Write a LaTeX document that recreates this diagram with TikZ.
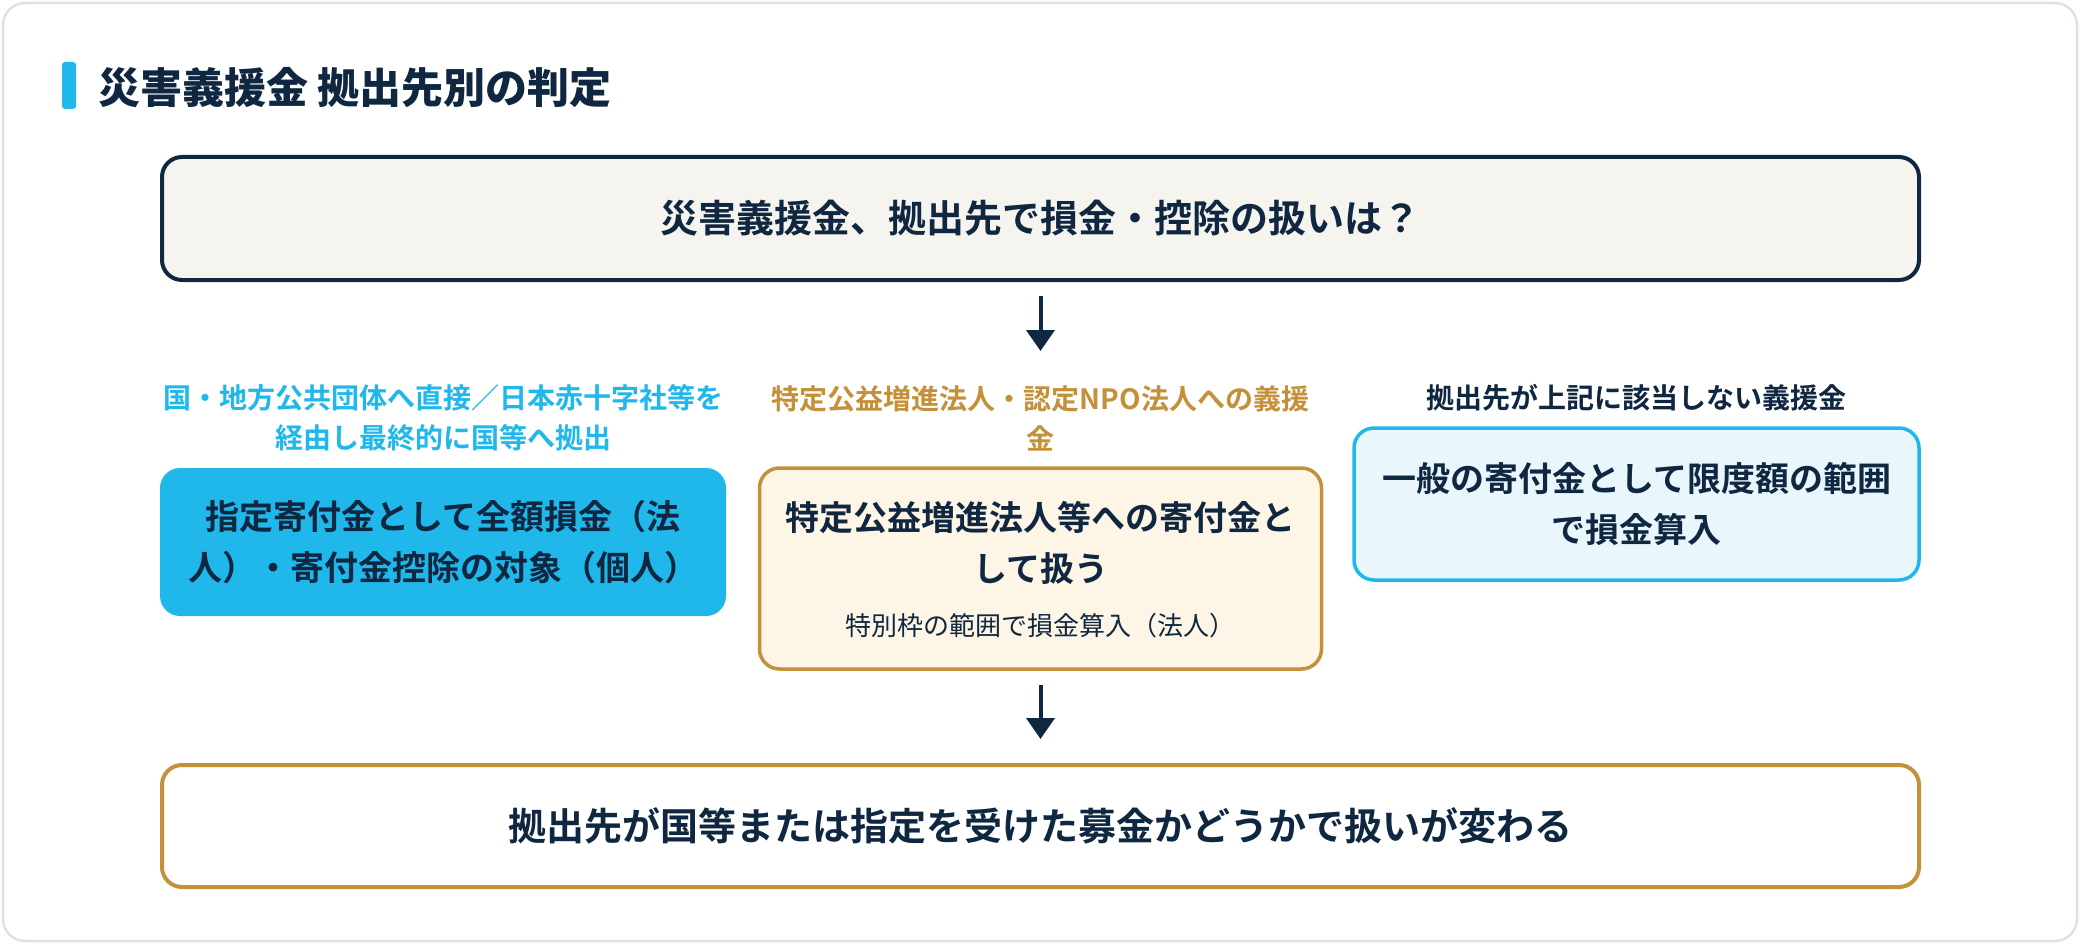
\documentclass[tikz,border=0pt]{standalone}
\usepackage{fontspec}
\setmainfont{Noto Sans CJK JP}[BoldFont={* Bold}]
\newfontfamily\heavyfont{Noto Sans CJK JP Black}
\usetikzlibrary{arrows.meta}
\definecolor{navy}{HTML}{0F2740}
\definecolor{skyblue}{HTML}{20B7EA}
\definecolor{gold}{HTML}{C4913A}
\definecolor{cream}{HTML}{FDF5E6}
\definecolor{icecyan}{HTML}{E9F7FD}
\definecolor{paper}{HTML}{F5F4EF}
\definecolor{frameline}{HTML}{E4E2D8}

\begin{document}
\begin{tikzpicture}[x=1pt,y=-1pt,
  box/.style={rectangle,rounded corners=20pt,align=center,inner sep=0pt,
    text=navy,font=\bfseries\fontsize{34}{51}\selectfont},
  lbl/.style={align=center,inner sep=0pt,font=\bfseries\fontsize{28}{40}\selectfont},
  flow/.style={draw=navy,line width=4pt,-{Triangle[length=21pt,width=28pt]}}]
  \useasboundingbox (0,0) rectangle (2080,944);
  \draw[frameline,line width=2.5pt,fill=white,rounded corners=22pt] (3,3) rectangle (2077,941);
  \fill[skyblue,rounded corners=3pt] (62,62) rectangle (76,109);
  \node[anchor=west,inner sep=0pt,text=navy,font=\heavyfont\fontsize{42}{50}\selectfont] (title) at (98,88) {災害義援金 拠出先別の判定};
  \node[box,draw=navy,line width=4pt,fill=paper,minimum width=1757pt,minimum height=123pt,
    font=\bfseries\fontsize{38}{46}\selectfont] (question) at (1040.5,218.5) {災害義援金、拠出先で損金・控除の扱いは？};
  \coordinate (split) at (1040.5,351);
  \node[lbl,text=skyblue] (lbldirect) at (443,418) {国・地方公共団体へ直接／日本赤十字社等を\\経由し最終的に国等へ拠出};
  \node[lbl,text=gold] (lblspecial) at (1040.5,418) {特定公益増進法人・認定NPO法人への義援\\金};
  \node[lbl,text=navy] (lblgeneral) at (1636,398) {拠出先が上記に該当しない義援金};
  \node[box,fill=skyblue,minimum width=566pt,minimum height=148pt] (direct) at (443,542) {指定寄付金として全額損金（法\\人）・寄付金控除の対象（個人）};
  \node[box,draw=gold,line width=3.5pt,fill=cream,minimum width=562pt,minimum height=201pt] (special) at (1040.5,568.5) {};
  \node[box,anchor=center] (specialtext) at (1040.5,542.5) {特定公益増進法人等への寄付金と\\して扱う};
  \node[inner sep=0pt,text=navy,font=\fontsize{26}{32}\selectfont] (specialnote) at (1040.5,626) {特別枠の範囲で損金算入（法人）};
  \node[box,draw=skyblue,line width=3.5pt,fill=icecyan,minimum width=565pt,minimum height=152pt] (general) at (1636.5,504) {一般の寄付金として限度額の範囲\\で損金算入};
  \node[box,draw=gold,line width=4pt,fill=white,minimum width=1757pt,minimum height=122pt,
    font=\bfseries\fontsize{38}{46}\selectfont] (result) at (1040.5,826) {拠出先が国等または指定を受けた募金かどうかで扱いが変わる};
  \draw[flow,shorten <=14pt] (question) -- (split);
  \draw[flow,shorten <=14pt,shorten >=24pt] (special) -- (result);
\end{tikzpicture}
\end{document}
